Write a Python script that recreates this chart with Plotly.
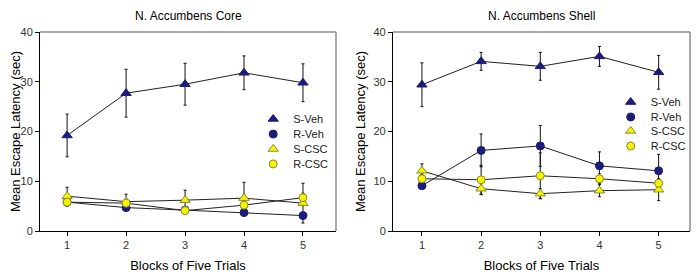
import plotly.graph_objects as go

blocks = [1, 2, 3, 4, 5]

# N. Accumbens Core
core_sveh = [19.2, 27.7, 29.5, 31.8, 29.8]
core_sveh_err = [4.3, 4.8, 4.2, 3.4, 3.8]
core_rveh = [5.8, 4.7, 4.2, 3.7, 3.1]
core_rveh_err = [0.6, 0.6, 0.5, 0.6, 0.5]
core_scsc = [7.0, 5.9, 6.2, 6.6, 5.6]
core_scsc_err = [1.8, 1.5, 2.0, 3.2, 4.0]
core_rcsc = [5.8, 5.6, 4.1, 5.2, 6.7]
core_rcsc_err = [0.8, 0.7, 0.6, 0.8, 0.9]

# N. Accumbens Shell
shell_sveh = [29.4, 34.1, 33.1, 35.1, 31.9]
shell_sveh_err = [4.4, 1.8, 2.8, 2.0, 3.4]
shell_rveh = [9.1, 16.2, 17.1, 13.1, 12.1]
shell_rveh_err = [0.6, 3.3, 4.1, 2.8, 3.3]
shell_scsc = [12.1, 8.5, 7.5, 8.1, 8.3]
shell_scsc_err = [1.4, 1.2, 1.0, 1.2, 2.2]
shell_rcsc = [10.5, 10.3, 11.1, 10.5, 9.6]
shell_rcsc_err = [0.9, 2.9, 4.6, 1.0, 0.8]

names = ["S-Veh", "R-Veh", "S-CSC", "R-CSC"]
NAVY = "#1c1c7a"
YEL = "#f5f500"
styles = [
    dict(symbol="triangle-up", size=9, color=NAVY, line=dict(color=NAVY, width=1)),
    dict(symbol="circle", size=8, color=NAVY, line=dict(color=NAVY, width=1)),
    dict(symbol="triangle-up", size=9, color=YEL, line=dict(color="#8a8a30", width=1)),
    dict(symbol="circle", size=8, color=YEL, line=dict(color="#8a8a30", width=1)),
]

FONT = "Arial, Liberation Sans, sans-serif"
fig = go.Figure()

panels = [
    ("x", "y", ["legend", "legend2", "legend3", "legend4"],
     [(core_sveh, core_sveh_err), (core_rveh, core_rveh_err),
      (core_scsc, core_scsc_err), (core_rcsc, core_rcsc_err)]),
    ("x2", "y2", ["legend5", "legend6", "legend7", "legend8"],
     [(shell_sveh, shell_sveh_err), (shell_rveh, shell_rveh_err),
      (shell_scsc, shell_scsc_err), (shell_rcsc, shell_rcsc_err)]),
]
# lines first (beneath markers)
for xa, ya, lgs, series in panels:
    for name, (vals, errs) in zip(names, series):
        fig.add_trace(go.Scatter(
            x=blocks, y=vals, mode="lines", xaxis=xa, yaxis=ya, showlegend=False,
            line=dict(color="#222222", width=1), hoverinfo="skip",
            error_y=dict(type="data", array=errs, visible=True,
                         color="#111111", thickness=1, width=1.5),
        ))
for xa, ya, lgs, series in panels:
    for name, st, lg, (vals, errs) in zip(names, styles, lgs, series):
        fig.add_trace(go.Scatter(
            x=blocks, y=vals, name=name, mode="markers",
            xaxis=xa, yaxis=ya, legend=lg, showlegend=True, marker=st,
        ))

axis_common = dict(showline=True, linecolor="#000000", linewidth=1, mirror=False,
                   showgrid=False, zeroline=False, ticks="outside", ticklen=4,
                   tickcolor="#000000", automargin=False,
                   tickfont=dict(family=FONT, size=11, color="#333333"))

leg_font = dict(family=FONT, size=11, color="#222222")
left_y = [0.563, 0.487, 0.412, 0.337]
right_y = [0.648, 0.573, 0.503, 0.427]
legends = {}
for i, yv in enumerate(left_y):
    key = "legend" if i == 0 else f"legend{i + 1}"
    legends[key] = dict(x=0.328, y=yv, xanchor="left", yanchor="middle",
                        bgcolor="rgba(0,0,0,0)", font=leg_font, itemwidth=30)
for i, yv in enumerate(right_y):
    legends[f"legend{i + 5}"] = dict(x=0.878, y=yv, xanchor="left", yanchor="middle",
                                     bgcolor="rgba(0,0,0,0)", font=leg_font, itemwidth=30)

fig.update_layout(
    width=700, height=280,
    margin=dict(l=32, r=18, t=24, b=57),
    plot_bgcolor="white", paper_bgcolor="white",
    font=dict(family=FONT, size=11, color="#000000"),
    xaxis=dict(domain=[0, 0.4554], range=[0.54, 5.56], tickvals=blocks, anchor="y",
               title=dict(text="Blocks of Five Trials", font=dict(size=13), standoff=10), **axis_common),
    yaxis=dict(domain=[0, 1], range=[0, 40], dtick=10, anchor="x",
               title=dict(text="Mean Escape Latency (sec)", font=dict(size=13), standoff=4), **axis_common),
    xaxis2=dict(domain=[0.543, 1.0], range=[0.51, 5.53], tickvals=blocks, anchor="y2",
                title=dict(text="Blocks of Five Trials", font=dict(size=13), standoff=10), **axis_common),
    yaxis2=dict(domain=[0, 1], range=[0, 40], dtick=10, anchor="x2",
                title=dict(text="Mean Escape Latency (sec)", font=dict(size=13), standoff=4), **axis_common),
    showlegend=True,
    annotations=[
        dict(text="N. Accumbens Core", x=0.2277, y=1, xref="paper", yref="paper",
             xanchor="center", yanchor="bottom", yshift=7, showarrow=False,
             font=dict(family=FONT, size=12, color="#000000")),
        dict(text="N. Accumbens Shell", x=0.7715, y=1, xref="paper", yref="paper",
             xanchor="center", yanchor="bottom", yshift=7, showarrow=False,
             font=dict(family=FONT, size=12, color="#000000")),
    ],
    shapes=[
        dict(type="line", xref="x domain", yref="y domain", x0=0, x1=1, y0=1, y1=1,
             line=dict(color="#8c8c8c", width=1.5)),
        dict(type="line", xref="x domain", yref="y domain", x0=1, x1=1, y0=0, y1=1,
             line=dict(color="#8c8c8c", width=1.5)),
        dict(type="line", xref="x2 domain", yref="y2 domain", x0=0, x1=1, y0=1, y1=1,
             line=dict(color="#8c8c8c", width=1.5)),
        dict(type="line", xref="x2 domain", yref="y2 domain", x0=1, x1=1, y0=0, y1=1,
             line=dict(color="#8c8c8c", width=1.5)),
    ],
    **legends,
)

fig.write_html("out.html")
